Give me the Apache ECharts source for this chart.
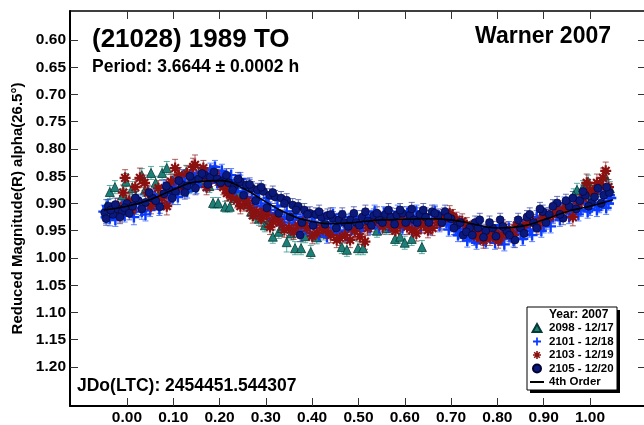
<!DOCTYPE html>
<html><head><meta charset="utf-8">
<script src="https://cdn.jsdelivr.net/npm/echarts@6/dist/echarts.min.js"></script>
<style>html,body{margin:0;padding:0;background:#fff;overflow:hidden}#c{width:648px;height:425px}</style>
</head><body><div id="c"></div>
<script>
// ---------- data ----------
const xTicks = [0, 0.1, 0.2, 0.3, 0.4, 0.5, 0.6, 0.7, 0.8, 0.9, 1.0];
const yTicks = [0.60, 0.65, 0.70, 0.75, 0.80, 0.85, 0.90, 0.95, 1.00, 1.05, 1.10, 1.15, 1.20];
const seriesNames = ['2098 - 12/17', '2101 - 12/18', '2103 - 12/19', '2105 - 12/20'];
const fitName = '4th Order';

// [phase, reduced mag, error]
const s2098 = [
[-0.045,0.905,0.012],[-0.037,0.879,0.012],[-0.026,0.870,0.012],[-0.010,0.885,0.012],[-0.002,0.860,0.015],
[0.012,0.872,0.012],[0.032,0.848,0.012],[0.039,0.875,0.012],[0.052,0.844,0.012],[0.062,0.862,0.012],
[0.076,0.844,0.012],[0.086,0.835,0.012],[0.098,0.858,0.012],[0.112,0.850,0.012],[0.128,0.842,0.012],
[0.140,0.855,0.012],[0.155,0.845,0.012],[0.168,0.862,0.012],[0.186,0.899,0.010],[0.197,0.899,0.010],
[0.212,0.906,0.010],[0.222,0.906,0.010],[0.240,0.885,0.012],[0.258,0.900,0.012],[0.275,0.920,0.012],
[0.298,0.940,0.012],[0.315,0.961,0.012],[0.328,0.952,0.012],[0.345,0.971,0.018],[0.363,0.982,0.012],
[0.376,0.982,0.012],[0.397,0.989,0.012],[0.425,0.955,0.012],[0.445,0.948,0.012],[0.464,0.980,0.012],
[0.475,0.985,0.012],[0.499,0.982,0.012],[0.510,0.982,0.012],[0.540,0.950,0.012],[0.560,0.945,0.012],
[0.579,0.965,0.012],[0.590,0.961,0.012],[0.600,0.972,0.012],[0.615,0.965,0.012],[0.637,0.980,0.012],
[0.972,0.875,0.012],[0.985,0.870,0.012],[0.996,0.860,0.012],[1.015,0.875,0.012],[1.032,0.848,0.012],
[1.043,0.872,0.012],[0.005,0.895,0.012],[0.020,0.890,0.012],[0.070,0.880,0.012],[0.105,0.875,0.012],
[0.135,0.870,0.012],[0.160,0.858,0.012],[0.178,0.868,0.012],[0.232,0.890,0.012],[0.268,0.915,0.012],
[0.285,0.928,0.012],[0.305,0.935,0.012],[0.335,0.945,0.012],[0.355,0.955,0.012],[0.385,0.960,0.012],
[0.410,0.962,0.012],[0.955,0.900,0.012],[0.965,0.885,0.012],[1.005,0.885,0.012],[1.025,0.865,0.012]
];
const s2101 = [
[-0.050,0.915,0.012],[-0.045,0.925,0.012],[-0.037,0.927,0.014],[-0.030,0.910,0.012],[-0.020,0.918,0.012],
[-0.010,0.905,0.012],[0.000,0.912,0.012],[0.010,0.900,0.012],[0.020,0.908,0.012],[0.032,0.915,0.014],
[0.045,0.903,0.012],[0.055,0.895,0.012],[0.065,0.900,0.012],[0.075,0.888,0.012],[0.085,0.880,0.012],
[0.095,0.885,0.012],[0.105,0.870,0.012],[0.115,0.872,0.012],[0.125,0.862,0.012],[0.135,0.865,0.012],
[0.145,0.855,0.012],[0.155,0.858,0.012],[0.165,0.850,0.012],[0.175,0.852,0.012],[0.185,0.845,0.012],
[0.190,0.833,0.012],[0.200,0.850,0.012],[0.210,0.855,0.012],[0.220,0.860,0.012],[0.230,0.865,0.012],
[0.240,0.868,0.012],[0.250,0.878,0.012],[0.260,0.875,0.012],[0.270,0.888,0.012],[0.280,0.893,0.012],
[0.290,0.905,0.012],[0.300,0.900,0.012],[0.310,0.912,0.012],[0.320,0.918,0.012],[0.330,0.925,0.012],
[0.340,0.928,0.012],[0.350,0.935,0.012],[0.360,0.930,0.012],[0.370,0.938,0.012],[0.380,0.925,0.012],
[0.390,0.942,0.012],[0.400,0.935,0.012],[0.410,0.945,0.012],[0.420,0.938,0.012],[0.432,0.961,0.012],
[0.440,0.935,0.012],[0.450,0.945,0.012],[0.460,0.940,0.012],[0.470,0.950,0.012],[0.480,0.932,0.012],
[0.490,0.945,0.012],[0.500,0.935,0.012],[0.510,0.940,0.012],[0.520,0.930,0.012],[0.530,0.925,0.012],
[0.540,0.935,0.012],[0.550,0.928,0.012],[0.560,0.932,0.012],[0.570,0.920,0.012],[0.580,0.930,0.012],
[0.590,0.925,0.012],[0.600,0.935,0.012],[0.610,0.928,0.012],[0.620,0.932,0.012],[0.630,0.925,0.012],
[0.640,0.930,0.012],[0.650,0.935,0.012],[0.660,0.928,0.012],[0.670,0.925,0.012],[0.680,0.930,0.012],
[0.690,0.935,0.012],[0.700,0.940,0.012],[0.710,0.948,0.012],[0.720,0.952,0.012],[0.730,0.955,0.012],
[0.740,0.960,0.012],[0.750,0.965,0.012],[0.760,0.958,0.012],[0.770,0.965,0.012],[0.780,0.955,0.012],
[0.790,0.960,0.012],[0.800,0.952,0.012],[0.810,0.965,0.012],[0.820,0.955,0.012],[0.830,0.960,0.012],
[0.840,0.950,0.012],[0.850,0.955,0.012],[0.860,0.945,0.012],[0.870,0.950,0.012],[0.880,0.940,0.012],
[0.890,0.935,0.012],[0.900,0.942,0.012],[0.910,0.930,0.012],[0.920,0.925,0.012],[0.930,0.920,0.012],
[0.940,0.915,0.012],[0.950,0.910,0.012],[0.960,0.918,0.012],[0.970,0.905,0.012],[0.980,0.912,0.012],
[0.990,0.900,0.012],[1.000,0.910,0.012],[1.010,0.898,0.012],[1.020,0.905,0.012],[1.030,0.895,0.012],
[1.040,0.900,0.012],[1.045,0.890,0.012],
[-0.042,0.905,0.012],[-0.025,0.930,0.012],[-0.005,0.922,0.012],[0.015,0.925,0.014],[0.028,0.898,0.012],
[0.040,0.920,0.012],[0.050,0.912,0.012],[0.060,0.885,0.012],[0.070,0.910,0.012],[0.080,0.870,0.012],
[0.090,0.898,0.012],[0.100,0.862,0.012],[0.110,0.888,0.014],[0.120,0.850,0.012],[0.130,0.878,0.012],
[0.140,0.845,0.012],[0.150,0.870,0.012],[0.160,0.842,0.012],[0.170,0.865,0.012],[0.180,0.838,0.012],
[0.195,0.862,0.012],[0.205,0.840,0.012],[0.215,0.868,0.012],[0.225,0.848,0.012],[0.235,0.878,0.012],
[0.245,0.855,0.012],[0.255,0.890,0.012],[0.265,0.868,0.012],[0.275,0.900,0.012],[0.285,0.880,0.012],
[0.295,0.918,0.012],[0.305,0.890,0.012],[0.315,0.930,0.012],[0.325,0.905,0.012],[0.335,0.940,0.012],
[0.345,0.915,0.012],[0.355,0.948,0.012],[0.365,0.920,0.012],[0.375,0.950,0.012],[0.385,0.935,0.012],
[0.395,0.955,0.012],[0.405,0.925,0.012],[0.415,0.958,0.012],[0.425,0.928,0.012],[0.435,0.952,0.012],
[0.445,0.920,0.012],[0.455,0.955,0.012],[0.465,0.925,0.012],[0.475,0.958,0.012],[0.485,0.945,0.012],
[0.495,0.925,0.012],[0.505,0.950,0.012],[0.515,0.922,0.012],[0.525,0.945,0.012],[0.535,0.915,0.012],
[0.545,0.945,0.012],[0.555,0.918,0.012],[0.565,0.942,0.012],[0.575,0.935,0.012],[0.585,0.915,0.012],
[0.595,0.945,0.012],[0.605,0.918,0.012],[0.615,0.945,0.012],[0.625,0.915,0.012],[0.635,0.942,0.012],
[0.645,0.920,0.012],[0.655,0.945,0.012],[0.665,0.915,0.012],[0.675,0.940,0.012],[0.685,0.920,0.012],
[0.695,0.948,0.012],[0.705,0.930,0.012],[0.715,0.958,0.012],[0.725,0.940,0.012],[0.735,0.968,0.012],
[0.745,0.948,0.012],[0.755,0.972,0.012],[0.765,0.945,0.012],[0.775,0.970,0.012],[0.785,0.945,0.012],
[0.795,0.972,0.012],[0.805,0.940,0.012],[0.815,0.975,0.012],[0.825,0.945,0.012],[0.835,0.968,0.012],
[0.845,0.938,0.012],[0.855,0.965,0.012],[0.865,0.930,0.012],[0.875,0.958,0.012],[0.885,0.925,0.012],
[0.895,0.950,0.012],[0.905,0.920,0.012],[0.915,0.942,0.012],[0.925,0.908,0.012],[0.935,0.930,0.012],
[0.945,0.900,0.012],[0.955,0.925,0.012],[0.965,0.895,0.012],[0.975,0.920,0.012],[0.985,0.888,0.012],
[0.995,0.915,0.012],[1.005,0.885,0.012],[1.015,0.912,0.012],[1.025,0.880,0.012],[1.035,0.908,0.012],
[1.042,0.885,0.012]
];
const s2103 = [
[-0.020,0.905,0.014],[-0.004,0.853,0.015],[0.010,0.912,0.012],[0.028,0.853,0.018],[0.045,0.880,0.014],
[0.060,0.895,0.014],[0.076,0.890,0.014],[0.086,0.905,0.016],[0.104,0.835,0.016],[0.120,0.870,0.014],
[0.143,0.833,0.016],[0.147,0.829,0.018],[0.160,0.850,0.014],[0.180,0.855,0.014],[0.200,0.860,0.014],
[0.216,0.881,0.014],[0.238,0.894,0.014],[0.255,0.900,0.014],[0.266,0.908,0.014],[0.280,0.915,0.014],
[0.302,0.921,0.014],[0.309,0.943,0.014],[0.315,0.933,0.014],[0.330,0.935,0.014],[0.350,0.945,0.014],
[0.370,0.940,0.014],[0.389,0.945,0.014],[0.410,0.954,0.014],[0.430,0.950,0.014],[0.453,0.967,0.014],
[0.460,0.963,0.014],[0.471,0.958,0.014],[0.482,0.967,0.014],[0.503,0.961,0.014],[0.514,0.970,0.014],
[0.531,0.934,0.014],[0.545,0.930,0.014],[0.557,0.933,0.014],[0.572,0.943,0.014],[0.590,0.938,0.014],
[0.605,0.943,0.014],[0.616,0.949,0.014],[0.635,0.940,0.014],[0.650,0.949,0.014],[0.670,0.930,0.014],
[0.683,0.925,0.014],[0.691,0.925,0.014],[0.704,0.925,0.014],[0.724,0.933,0.014],[0.734,0.940,0.014],
[0.741,0.952,0.014],[0.756,0.961,0.014],[0.778,0.954,0.014],[0.784,0.963,0.014],[0.810,0.958,0.014],
[0.827,0.952,0.014],[0.842,0.940,0.014],[0.855,0.943,0.014],[0.877,0.934,0.014],[0.898,0.927,0.014],
[0.920,0.920,0.014],[0.942,0.912,0.014],[0.963,0.925,0.016],[0.975,0.900,0.014],[0.993,0.862,0.016],
[1.000,0.875,0.014],[1.015,0.862,0.016],[1.028,0.853,0.018],[1.040,0.870,0.014],
[-0.015,0.920,0.014],[-0.008,0.880,0.014],[0.005,0.895,0.014],[0.018,0.870,0.014],[0.038,0.862,0.014],
[0.052,0.905,0.014],[0.068,0.872,0.014],[0.095,0.860,0.014],[0.112,0.848,0.014],[0.130,0.845,0.014],
[0.165,0.835,0.014],[0.172,0.870,0.014],[0.190,0.845,0.014],[0.208,0.870,0.014],[0.225,0.888,0.014],
[0.245,0.905,0.014],[0.260,0.895,0.014],[0.272,0.922,0.014],[0.290,0.928,0.014],[0.296,0.915,0.014],
[0.322,0.925,0.014],[0.340,0.948,0.014],[0.360,0.952,0.014],[0.380,0.935,0.014],[0.400,0.960,0.014],
[0.420,0.945,0.014],[0.440,0.958,0.014],[0.492,0.950,0.014],[0.520,0.945,0.014],[0.538,0.925,0.014],
[0.552,0.942,0.014],[0.565,0.928,0.014],[0.580,0.950,0.014],[0.598,0.932,0.014],[0.625,0.955,0.014],
[0.642,0.935,0.014],[0.660,0.945,0.014],[0.676,0.935,0.014],[0.697,0.918,0.014],[0.712,0.930,0.014],
[0.748,0.945,0.014],[0.765,0.955,0.014],[0.770,0.968,0.014],[0.795,0.955,0.014],[0.802,0.968,0.014],
[0.818,0.948,0.014],[0.835,0.958,0.014],[0.865,0.935,0.014],[0.888,0.940,0.014],[0.910,0.925,0.014],
[0.930,0.915,0.014],[0.950,0.905,0.014],[0.985,0.890,0.014],[1.008,0.880,0.014],[1.022,0.868,0.014],
[1.034,0.840,0.016]
];
const s2105 = [
[-0.048,0.917,0.012],[-0.040,0.905,0.012],[-0.030,0.920,0.012],[-0.020,0.910,0.012],[-0.010,0.915,0.012],
[0.000,0.900,0.012],[0.012,0.905,0.012],[0.025,0.895,0.012],[0.040,0.898,0.012],[0.055,0.890,0.012],
[0.071,0.906,0.012],[0.080,0.882,0.012],[0.092,0.875,0.012],[0.105,0.878,0.012],[0.118,0.865,0.012],
[0.130,0.868,0.012],[0.142,0.858,0.012],[0.155,0.855,0.012],[0.168,0.848,0.012],[0.180,0.852,0.012],
[0.195,0.855,0.012],[0.208,0.858,0.012],[0.220,0.862,0.012],[0.232,0.868,0.012],[0.245,0.860,0.012],
[0.258,0.866,0.012],[0.270,0.872,0.012],[0.282,0.875,0.012],[0.295,0.878,0.012],[0.308,0.885,0.012],
[0.320,0.888,0.012],[0.333,0.890,0.012],[0.345,0.894,0.012],[0.358,0.903,0.012],[0.370,0.905,0.012],
[0.374,0.958,0.012],[0.383,0.912,0.012],[0.395,0.918,0.012],[0.408,0.920,0.012],[0.420,0.925,0.012],
[0.433,0.922,0.012],[0.445,0.927,0.012],[0.458,0.930,0.012],[0.470,0.935,0.012],[0.483,0.930,0.012],
[0.495,0.935,0.012],[0.508,0.925,0.012],[0.520,0.932,0.012],[0.533,0.922,0.012],[0.545,0.930,0.012],
[0.558,0.920,0.012],[0.570,0.925,0.012],[0.583,0.921,0.012],[0.595,0.918,0.012],[0.611,0.921,0.012],
[0.620,0.930,0.012],[0.633,0.920,0.012],[0.645,0.925,0.012],[0.659,0.915,0.012],[0.672,0.922,0.012],
[0.687,0.915,0.012],[0.700,0.928,0.012],[0.713,0.940,0.012],[0.726,0.958,0.012],[0.740,0.945,0.012],
[0.752,0.935,0.012],[0.762,0.930,0.012],[0.775,0.950,0.012],[0.790,0.945,0.012],[0.806,0.930,0.012],
[0.820,0.950,0.012],[0.838,0.967,0.014],[0.850,0.945,0.012],[0.864,0.925,0.012],[0.878,0.935,0.012],
[0.898,0.915,0.012],[0.912,0.920,0.012],[0.929,0.899,0.012],[0.942,0.927,0.012],[0.955,0.905,0.012],
[0.963,0.890,0.012],[0.978,0.895,0.012],[0.990,0.885,0.012],[1.003,0.898,0.012],[1.017,0.872,0.012],
[1.030,0.885,0.012],[1.042,0.880,0.012],
[-0.045,0.928,0.012],[-0.035,0.912,0.012],[-0.025,0.902,0.012],[-0.015,0.925,0.012],[-0.005,0.908,0.012],
[0.005,0.918,0.012],[0.018,0.890,0.012],[0.032,0.910,0.012],[0.048,0.880,0.012],[0.062,0.895,0.012],
[0.085,0.868,0.012],[0.098,0.890,0.012],[0.112,0.858,0.012],[0.125,0.880,0.012],[0.136,0.850,0.012],
[0.148,0.872,0.012],[0.162,0.845,0.012],[0.175,0.865,0.012],[0.188,0.842,0.012],[0.202,0.862,0.012],
[0.215,0.848,0.012],[0.228,0.875,0.012],[0.240,0.855,0.012],[0.252,0.885,0.012],[0.265,0.865,0.012],
[0.278,0.895,0.012],[0.290,0.870,0.012],[0.302,0.908,0.012],[0.315,0.880,0.012],[0.328,0.918,0.012],
[0.340,0.900,0.012],[0.352,0.925,0.012],[0.365,0.912,0.012],[0.378,0.935,0.012],[0.390,0.920,0.012],
[0.402,0.940,0.012],[0.415,0.915,0.012],[0.428,0.938,0.012],[0.440,0.920,0.012],[0.452,0.945,0.012],
[0.465,0.920,0.012],[0.478,0.942,0.012],[0.490,0.918,0.012],[0.502,0.940,0.012],[0.515,0.915,0.012],
[0.528,0.940,0.012],[0.540,0.918,0.012],[0.552,0.935,0.012],[0.565,0.912,0.012],[0.578,0.938,0.012],
[0.590,0.912,0.012],[0.602,0.935,0.012],[0.615,0.910,0.012],[0.627,0.935,0.012],[0.640,0.912,0.012],
[0.652,0.935,0.012],[0.665,0.918,0.012],[0.680,0.935,0.012],[0.693,0.925,0.012],[0.706,0.945,0.012],
[0.720,0.935,0.012],[0.733,0.952,0.012],[0.746,0.958,0.012],[0.758,0.945,0.012],[0.770,0.962,0.012],
[0.783,0.935,0.012],[0.797,0.960,0.012],[0.812,0.942,0.012],[0.826,0.958,0.012],[0.845,0.930,0.012],
[0.858,0.955,0.012],[0.870,0.920,0.012],[0.885,0.945,0.012],[0.892,0.910,0.012],[0.905,0.935,0.012],
[0.920,0.905,0.012],[0.935,0.920,0.012],[0.948,0.895,0.012],[0.970,0.910,0.012],[0.985,0.878,0.012],
[0.997,0.905,0.012],[1.010,0.888,0.012],[1.024,0.900,0.012],[1.036,0.870,0.012]
];
// 4th order Fourier fit
const fitCurve = [
[-0.05,0.912],[0.00,0.905],[0.05,0.893],[0.10,0.875],[0.15,0.860],[0.20,0.858],[0.25,0.872],
[0.30,0.897],[0.35,0.920],[0.40,0.933],[0.45,0.937],[0.50,0.934],[0.55,0.930],[0.60,0.929],
[0.65,0.928],[0.70,0.930],[0.75,0.938],[0.80,0.945],[0.85,0.942],[0.90,0.930],[0.95,0.915],
[1.00,0.905],[1.05,0.893]
];

// ---------- styling ----------
const FONT = 'Liberation Sans, Arial, sans-serif';
const X_MIN = -0.123, X_MAX = 1.121, Y_MIN = 0.5468, Y_MAX = 1.2716;
const ASTERISK = 'path://M-1,-5L1,-5L1,5L-1,5Z M-5,-1L5,-1L5,1L-5,1Z M-2.8,-4.2L4.2,2.8L2.8,4.2L-4.2,-2.8Z M2.8,-4.2L4.2,-2.8L-2.8,4.2L-4.2,2.8Z';
const PLUS = 'path://M-1.1,-5L1.1,-5L1.1,-1.1L5,-1.1L5,1.1L1.1,1.1L1.1,5L-1.1,5L-1.1,1.1L-5,1.1L-5,-1.1L-1.1,-1.1Z';
const TRI = 'path://M5,0L10,9L0,9Z';
const LINE_ICON = 'path://M0,0L14,0L14,2L0,2Z';
const legendIcons = [TRI, PLUS, ASTERISK, 'circle'];

function errRender(color) {
  return function (params, api) {
    const x = api.value(0), y = api.value(1), e = api.value(2);
    const a = api.coord([x, y - e]), b = api.coord([x, y + e]);
    const w = 3;
    const st = { stroke: color, lineWidth: 1 };
    return { type: 'group', children: [
      { type: 'line', shape: { x1: a[0], y1: a[1], x2: b[0], y2: b[1] }, style: st },
      { type: 'line', shape: { x1: a[0] - w, y1: a[1], x2: a[0] + w, y2: a[1] }, style: st },
      { type: 'line', shape: { x1: b[0] - w, y1: b[1], x2: b[0] + w, y2: b[1] }, style: st }
    ]};
  };
}
function errSeries(name, data, color) {
  return { name: name, type: 'custom', data: data, renderItem: errRender(color),
    encode: { x: 0, y: 1 }, clip: true, silent: true };
}

const chart = echarts.init(document.getElementById('c'), null, { renderer: 'canvas' });
const axisLine = { show: true, onZero: false, lineStyle: { color: '#000', width: 2 } };
const tick = { show: true, inside: true, length: 8, lineStyle: { color: '#333', width: 1 } };

chart.setOption({
  animation: false,
  backgroundColor: '#fff',
  grid: { left: 70, top: 11, right: 2, bottom: 19, containLabel: false, outerBoundsMode: 'none' },
  xAxis: [
    { type: 'value', position: 'bottom', min: X_MIN, max: X_MAX,
      axisLine: axisLine,
      axisTick: Object.assign({}, tick, { customValues: xTicks }),
      axisLabel: { customValues: xTicks, formatter: v => v.toFixed(2), fontSize: 15.5, fontWeight: 'bold',
        fontFamily: FONT, color: '#000', margin: 4 },
      splitLine: { show: false } },
    { type: 'value', position: 'top', min: X_MIN, max: X_MAX,
      axisLine: { show: true, onZero: false, lineStyle: { color: '#000', width: 1.5 } },
      axisTick: Object.assign({}, tick, { customValues: xTicks }),
      axisLabel: { show: false }, splitLine: { show: false } }
  ],
  yAxis: [
    { type: 'value', inverse: true, min: Y_MIN, max: Y_MAX, position: 'left',
      name: 'Reduced Magnitude(R) alpha(26.5°)', nameLocation: 'middle', nameGap: 41, nameRotate: 90,
      nameTextStyle: { fontSize: 15, fontWeight: 'bold', fontFamily: FONT, color: '#000' },
      axisLine: axisLine,
      axisTick: Object.assign({}, tick, { customValues: yTicks }),
      axisLabel: { customValues: yTicks, formatter: v => v.toFixed(2), fontSize: 15.5, fontWeight: 'bold',
        fontFamily: FONT, color: '#000', margin: 4 },
      splitLine: { show: false } },
    { type: 'value', inverse: true, min: Y_MIN, max: Y_MAX, position: 'right',
      axisLine: axisLine,
      axisTick: Object.assign({}, tick, { customValues: yTicks }),
      axisLabel: { show: false }, splitLine: { show: false } }
  ],
  legend: {
    data: seriesNames.map((n, i) => ({ name: n, icon: legendIcons[i] })).concat([{ name: fitName, icon: LINE_ICON }]),
    orient: 'vertical', left: 530, top: 322, padding: 0,
    itemWidth: 14, itemHeight: 8, itemGap: 1.5, selectedMode: false, z: 20, symbolKeepAspect: true,
    textStyle: { fontSize: 11.5, fontWeight: 'bold', fontFamily: FONT, color: '#000', lineHeight: 12 }
  },
  graphic: [
    { type: 'rect', z: 15, shape: { x: 530, y: 310, width: 90, height: 83 }, style: { fill: '#000' } },
    { type: 'rect', z: 16, shape: { x: 527, y: 307, width: 90, height: 83 }, style: { fill: '#fff', stroke: '#000', lineWidth: 1 } },
    { type: 'text', z: 17, x: 549, y: 315, style: { text: 'Year: 2007', font: 'bold 12px ' + FONT, fill: '#000', verticalAlign: 'middle' } },
    { type: 'text', z: 17, x: 92, y: 40, style: { text: '(21028) 1989 TO', font: 'bold 26px ' + FONT, fill: '#000', verticalAlign: 'middle' } },
    { type: 'text', z: 17, x: 92, y: 67, style: { text: 'Period: 3.6644 ± 0.0002 h', font: 'bold 17.5px ' + FONT, fill: '#000', verticalAlign: 'middle' } },
    { type: 'text', z: 17, x: 611, y: 37, style: { text: 'Warner 2007', font: 'bold 23px ' + FONT, fill: '#000', align: 'right', verticalAlign: 'middle' } },
    { type: 'text', z: 17, x: 77, y: 386, style: { text: 'JDo(LTC): 2454451.544307', font: 'bold 17.5px ' + FONT, fill: '#000', verticalAlign: 'middle' } }
  ],
  series: [
    errSeries('e2098', s2098, 'rgba(40,150,140,0.75)'),
    { name: seriesNames[0], type: 'scatter', data: s2098, symbol: 'triangle', symbolSize: 9, symbolKeepAspect: true,
      encode: { x: 0, y: 1 }, itemStyle: { color: '#1C8078', borderColor: '#073A34', borderWidth: 0.8, opacity: 1 } },
    errSeries('e2101', s2101, 'rgba(40,90,255,0.75)'),
    { name: seriesNames[1], type: 'scatter', data: s2101, symbol: PLUS, symbolSize: 11, symbolKeepAspect: true,
      encode: { x: 0, y: 1 }, itemStyle: { color: '#0A3CFF', opacity: 1 } },
    errSeries('e2103', s2103, 'rgba(150,40,40,0.75)'),
    { name: seriesNames[2], type: 'scatter', data: s2103, symbol: ASTERISK, symbolSize: 11, symbolKeepAspect: true,
      encode: { x: 0, y: 1 }, itemStyle: { color: '#8B1010', opacity: 1 } },
    { name: fitName, type: 'line', data: fitCurve, symbol: 'none', smooth: true,
      lineStyle: { color: '#000', width: 1.6 }, itemStyle: { color: '#000' } },
    errSeries('e2105', s2105, 'rgba(60,70,160,0.75)'),
    { name: seriesNames[3], type: 'scatter', data: s2105, symbol: 'circle', symbolSize: 8, symbolKeepAspect: true,
      encode: { x: 0, y: 1 }, itemStyle: { color: '#0B1A7A', borderColor: '#000033', borderWidth: 0.6, opacity: 1 } }
  ]
});
</script></body></html>
